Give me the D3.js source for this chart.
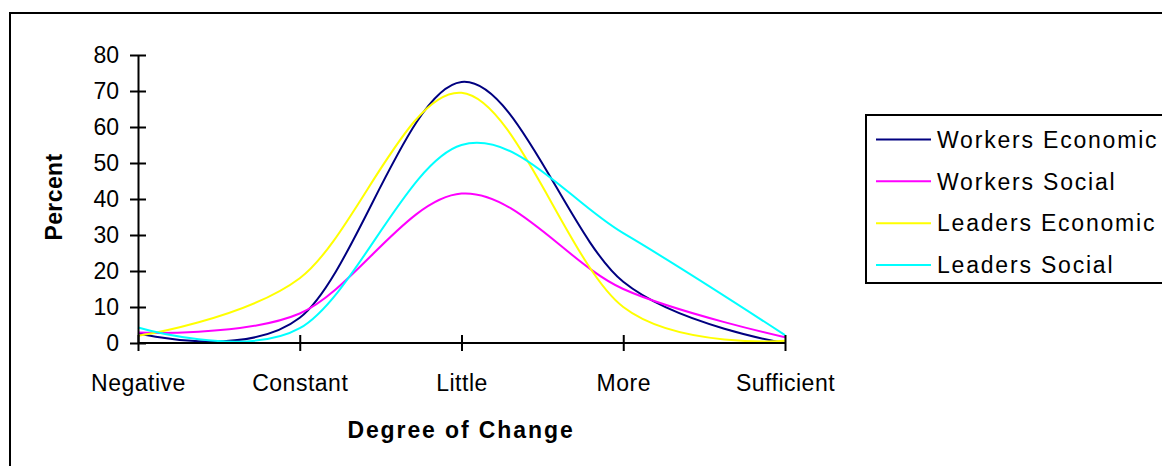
<!DOCTYPE html>
<html>
<head>
<meta charset="utf-8">
<script src="https://cdn.jsdelivr.net/npm/d3@7"></script>
<style>
  html, body { margin: 0; padding: 0; background: #fff; }
  svg { display: block; font-family: "Liberation Sans", Arial, sans-serif; }
</style>
</head>
<body>
<svg id="chart" width="1162" height="466"></svg>
<script>
// Categories along the horizontal axis
const categories = ["Negative", "Constant", "Little", "More", "Sufficient"];

// Percent of respondents per category, one array per series
const workersEconomic = [2.7, 7.0, 72.5, 17.0, 0.0];
const workersSocial   = [2.9, 8.2, 41.5, 15.0, 1.6];
const leadersEconomic = [2.0, 18.0, 69.5, 10.0, 0.6];
const leadersSocial   = [4.3, 4.1, 55.0, 30.5, 2.2];

const seriesNames  = ["Workers Economic", "Workers Social", "Leaders Economic", "Leaders Social"];
const seriesValues = [workersEconomic, workersSocial, leadersEconomic, leadersSocial];
const seriesColors = ["#000080", "#FF00FF", "#FFFF00", "#00FFFF"];

const yTicks = [0, 10, 20, 30, 40, 50, 60, 70, 80];

const FONT = "'Liberation Sans', Arial, sans-serif";
const svg = d3.select("#chart");

// Outer chart frame (runs off the right and bottom edges)
svg.append("rect")
  .attr("x", 10).attr("y", 13)
  .attr("width", 1200).attr("height", 500)
  .attr("fill", "#fff").attr("stroke", "#000").attr("stroke-width", 2);

const x = d3.scalePoint().domain(categories).range([138, 785]);
const y = d3.scaleLinear().domain([0, 80]).range([343, 55]);

// Series lines (smoothed)
const line = d3.line()
  .x((d, i) => x(categories[i]))
  .y(d => y(d))
  .curve(d3.curveCardinal.tension(0));

svg.append("g")
  .selectAll("path")
  .data(seriesValues)
  .join("path")
  .attr("d", d => line(d))
  .attr("fill", "none")
  .attr("stroke", (d, i) => seriesColors[i])
  .attr("stroke-width", 2);

// Y axis with ticks crossing the axis line
const yAxis = svg.append("g")
  .attr("transform", `translate(${x(categories[0])},0)`)
  .call(d3.axisLeft(y).tickValues(yTicks).tickSizeInner(8).tickSizeOuter(0).tickPadding(11));
yAxis.selectAll(".tick").append("line").attr("x2", 8).attr("stroke", "#000");
yAxis.selectAll("line, path").attr("stroke", "#000").attr("stroke-width", 2);
yAxis.selectAll("text")
  .attr("font-size", 23).attr("fill", "#000")
  .attr("font-family", FONT);

// X axis with ticks crossing the axis line
const xAxis = svg.append("g")
  .attr("transform", `translate(0,${y(0)})`)
  .call(d3.axisBottom(x).tickSizeInner(8).tickSizeOuter(0).tickPadding(24));
xAxis.selectAll(".tick").append("line").attr("y2", -8).attr("stroke", "#000");
xAxis.selectAll("line, path").attr("stroke", "#000").attr("stroke-width", 2);
xAxis.selectAll("text")
  .attr("font-size", 23).attr("fill", "#000")
  .attr("letter-spacing", 0.5)
  .attr("font-family", FONT);
xAxis.select(".domain").attr("d", `M${x(categories[0])},0H${x(categories[categories.length - 1])}`);

// Axis titles
svg.append("text")
  .attr("x", 461).attr("y", 438)
  .attr("text-anchor", "middle")
  .attr("font-size", 23).attr("font-weight", "bold")
  .attr("letter-spacing", 1.9)
  .text("Degree of Change");

svg.append("text")
  .attr("transform", "translate(62,197) rotate(-90)")
  .attr("text-anchor", "middle")
  .attr("font-size", 23).attr("font-weight", "bold")
  .attr("letter-spacing", 0.4)
  .text("Percent");

// Legend
const legend = svg.append("g");
legend.append("rect")
  .attr("x", 866).attr("y", 115)
  .attr("width", 400).attr("height", 168)
  .attr("fill", "#fff").attr("stroke", "#000").attr("stroke-width", 2);

const rowY = d3.scalePoint().domain(seriesNames).range([139.5, 265]);
const rows = legend.selectAll("g.item")
  .data(seriesNames)
  .join("g")
  .attr("class", "item")
  .attr("transform", d => `translate(0,${rowY(d)})`);
rows.append("line")
  .attr("x1", 876).attr("x2", 931)
  .attr("stroke", (d, i) => seriesColors[i])
  .attr("stroke-width", 2);
rows.append("text")
  .attr("x", 937).attr("dy", "0.36em")
  .attr("font-size", 23)
  .attr("letter-spacing", 1.8)
  .text(d => d);
</script>
</body>
</html>
